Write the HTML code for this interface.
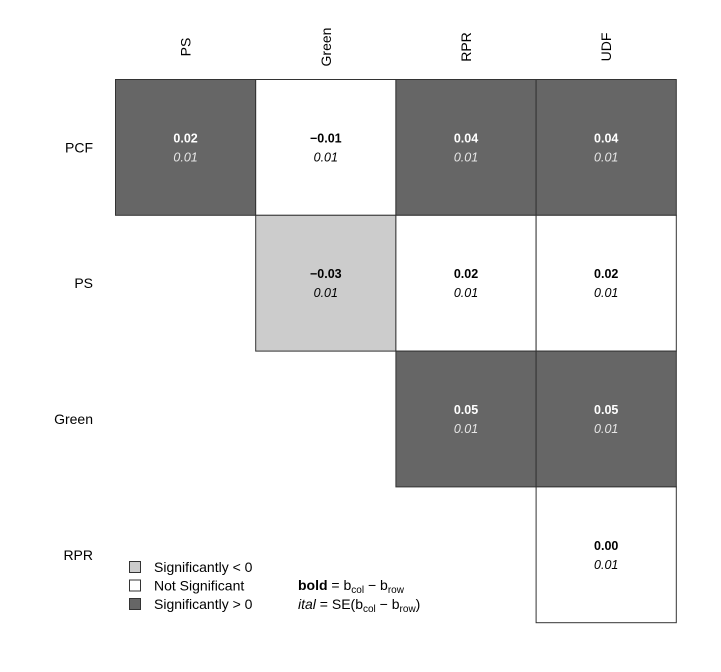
<!DOCTYPE html>
<html><head><meta charset="utf-8"><style>
body{margin:0;background:#fff}
svg{display:block;font-family:"Liberation Sans",Arial,sans-serif}
</style></head><body>
<svg id="chart" width="721" height="672" viewBox="0 0 721 672"></svg>
<script>
const colLabels = ["PS","Green","RPR","UDF"];
const rowLabels = ["PCF","PS","Green","RPR"];
const diffValues = [
  ["0.02","\u22120.01","0.04","0.04"],
  [null,"\u22120.03","0.02","0.02"],
  [null,null,"0.05","0.05"],
  [null,null,null,"0.00"]
];
const seValues = [
  ["0.01","0.01","0.01","0.01"],
  [null,"0.01","0.01","0.01"],
  [null,null,"0.01","0.01"],
  [null,null,null,"0.01"]
];
const sigValues = [
  [1,0,1,1],
  [null,-1,0,0],
  [null,null,1,1],
  [null,null,null,0]
];
const NS="http://www.w3.org/2000/svg";
const svg=document.getElementById('chart');
const x0=115.5,cw=140.2,y0=79.5,rh=135.8;
const colX=j=>x0+j*cw, rowY=i=>y0+i*rh;
function mk(tag,attrs,txt){const e=document.createElementNS(NS,tag);for(const k in attrs)e.setAttribute(k,attrs[k]);if(txt!=null)e.textContent=txt;svg.appendChild(e);return e;}
const fills={"1":"#666666","0":"#ffffff","-1":"#cccccc"};
for(let i=0;i<rowLabels.length;i++){
  for(let j=0;j<colLabels.length;j++){
    const s=sigValues[i][j]; if(s===null)continue;
    const r=mk('rect',{x:colX(j),y:rowY(i),width:cw,height:rh,fill:fills[s],stroke:'#333',"stroke-width":1});
    
    
    const cx=colX(j)+cw/2, cy=rowY(i)+rh/2;
    const dark=s===1;
    const t1=mk('text',{x:cx,y:cy-5,"text-anchor":"middle","font-size":12.5,"font-weight":"bold",fill:dark?'#fff':'#000'},diffValues[i][j]);
    
    
    const t2=mk('text',{x:cx,y:cy+14,"text-anchor":"middle","font-size":12.5,"font-style":"italic",fill:dark?'#e6e6e6':'#000'},seValues[i][j]);
    
    
  }
}
colLabels.forEach((l,j)=>{
  const cx=colX(j)+cw/2+5;
  const t=mk('text',{x:0,y:0,transform:`translate(${cx},47) rotate(-90)`,"text-anchor":"middle","font-size":14},l);
  
  
});
rowLabels.forEach((l,i)=>{
  const t=mk('text',{x:93,y:rowY(i)+rh/2+5,"text-anchor":"end","font-size":14},l);
  
  
});
const legendItems=[["#cccccc","Significantly < 0"],["#ffffff","Not Significant"],["#666666","Significantly > 0"]];
legendItems.forEach((it,k)=>{
  const y=567+k*18.5;
  const r=mk('rect',{x:129.5,y:y-5.5,width:11,height:11,fill:it[0],stroke:'#333'});
  
  
  const t=mk('text',{x:154,y:y+5,"font-size":14},it[1]);
  
  
});
</script>
<svg style="position:absolute;left:0;top:0" width="721" height="672" font-family="Liberation Sans, Arial, sans-serif">
<text x="298" y="590" font-size="14"><tspan font-weight="bold">bold</tspan> =  b<tspan font-size="10" dy="3">col</tspan><tspan dy="-3"> − b</tspan><tspan font-size="10" dy="3">row</tspan></text>
<text x="298" y="609" font-size="14"><tspan font-style="italic">ital</tspan> =  SE(b<tspan font-size="10" dy="3">col</tspan><tspan dy="-3"> − b</tspan><tspan font-size="10" dy="3">row</tspan><tspan dy="-3">)</tspan></text>
</svg>
</body></html>
